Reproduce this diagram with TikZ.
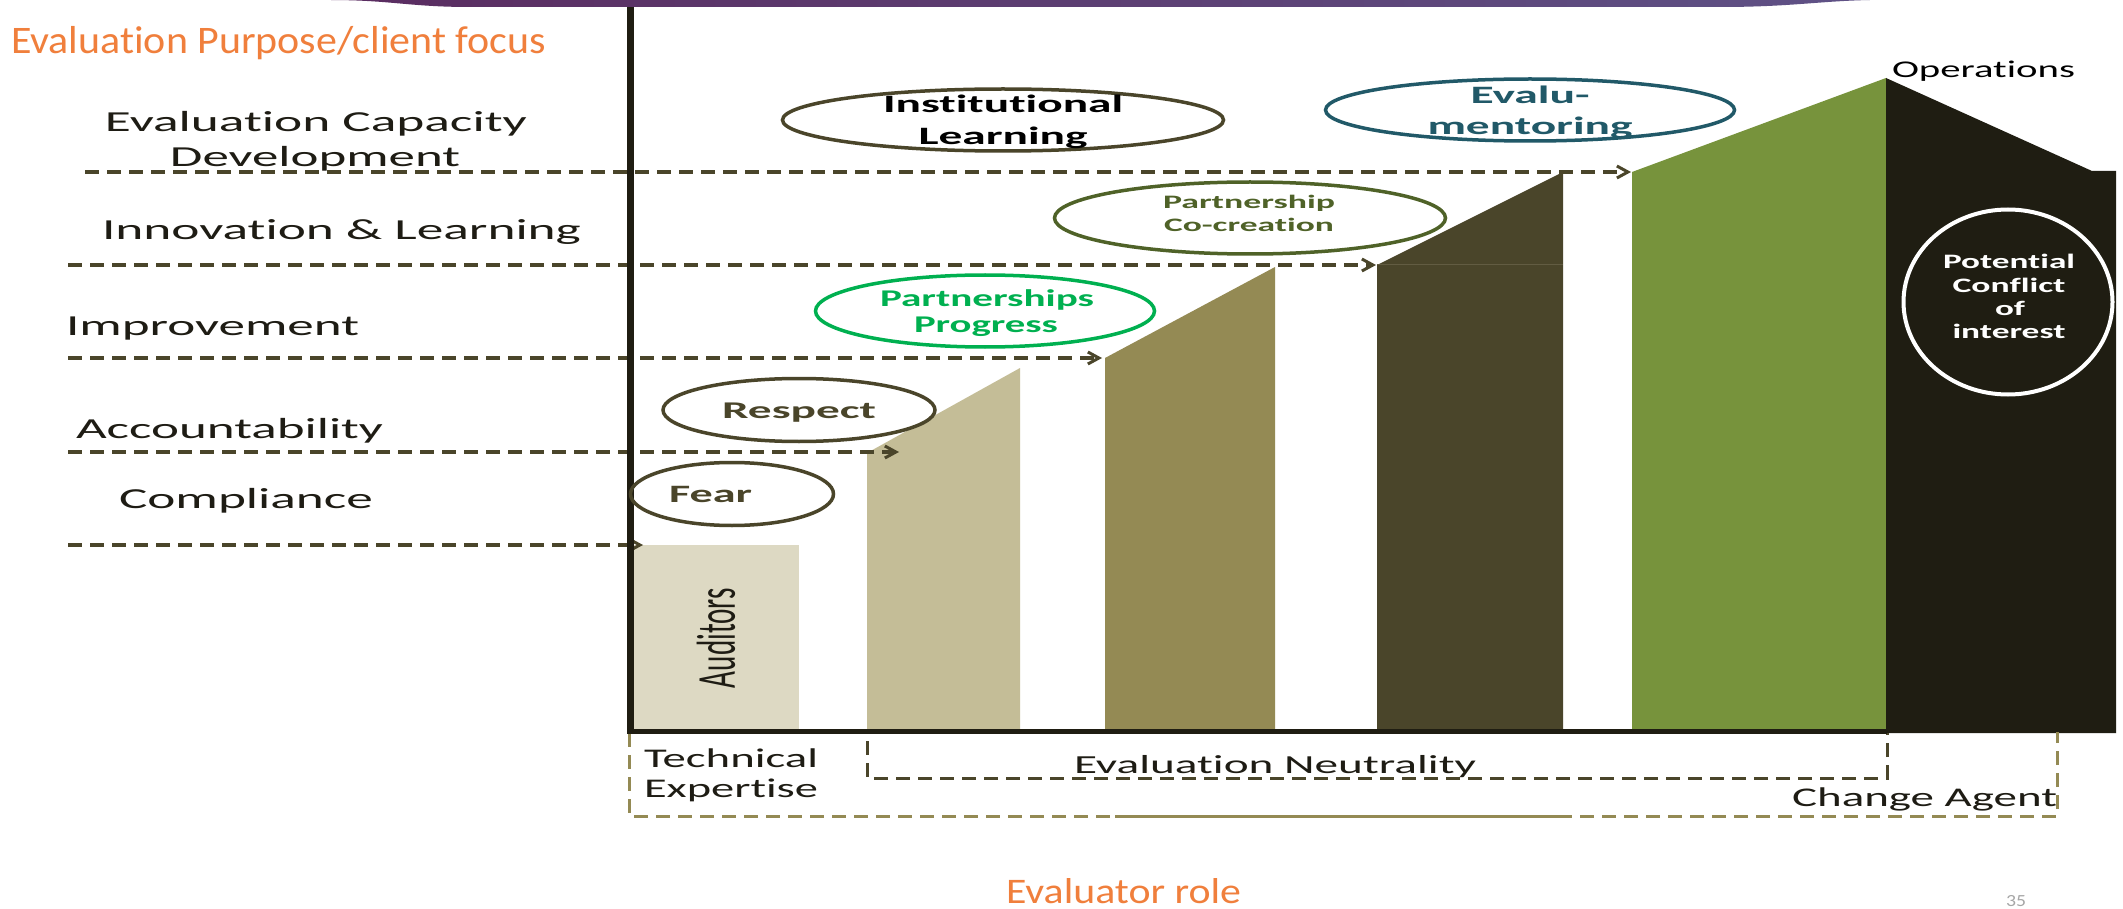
\documentclass[tikz,border=0pt]{standalone}
\usepackage{fontspec}
\setmainfont{Carlito}[Ligatures=NoCommon]
\usepackage{graphicx}
\usetikzlibrary{arrows.meta,shapes.geometric}

\definecolor{barpale}{HTML}{DDD9C3}
\definecolor{bartan}{HTML}{C4BD97}
\definecolor{barolive}{HTML}{948A54}
\definecolor{bardark}{HTML}{4A452A}
\definecolor{bargreen}{HTML}{77933C}
\definecolor{barblack}{HTML}{1F1D12}
\definecolor{barseam}{HTML}{625C42}
\definecolor{inkdark}{HTML}{1E1C14}
\definecolor{titleorange}{HTML}{F07F3C}
\definecolor{mentorteal}{HTML}{215968}
\definecolor{cocreate}{HTML}{4F6228}
\definecolor{progreen}{HTML}{00B050}
\definecolor{pageno}{HTML}{A6A6A6}
\definecolor{bandA}{HTML}{5A2C60}
\definecolor{bandB}{HTML}{6B2D63}
\definecolor{bandC}{HTML}{5F5286}

% stretch a text horizontally to a given width (in pt), keeping its height
\newcommand{\fitw}[2]{\resizebox{#1pt}{\height}{#2}}

\tikzset{
  lbl/.style={inner sep=0pt, outer sep=0pt, text=inkdark},
  purpose/.style={lbl, font=\fontsize{29}{34}\selectfont},
  rolelbl/.style={lbl, anchor=base west, font=\fontsize{27}{32}\selectfont},
  bubble/.style={ellipse, draw, line width=3.5pt, inner sep=0pt, outer sep=0pt},
  bubbletext/.style={inner sep=0pt, outer sep=0pt, anchor=base, font=\bfseries\fontsize{24}{28}\selectfont},
  flow/.style={draw=bardark, line width=3.2pt, dash pattern=on 14pt off 8pt,
    -{Straight Barb[length=11pt,width=12pt,line width=3pt]}},
  outerdash/.style={draw=barolive, line width=3pt, dash pattern=on 14pt off 8pt},
  innerdash/.style={draw=bardark, line width=3pt, dash pattern=on 14pt off 8pt},
}

\begin{document}
\begin{tikzpicture}[x=1pt,y=-1pt]
\fill[white] (0,0) rectangle (2123,909);
\useasboundingbox (0,0) rectangle (2123,909);

% header band
\shade[left color=bandA, middle color=bandB, right color=bandC]
  (330,0) .. controls (390,0) and (410,7) .. (470,7) -- (1720,7)
  .. controls (1790,7) and (1820,1) .. (1870,0) -- cycle;

% evaluator role columns
\fill[barpale] (634,545) rectangle (799,729);
\fill[bartan] (867,729) -- (867,453) -- (1020,368) -- (1020,729) -- cycle;
\fill[barolive] (1105,729) -- (1105,358) -- (1275,267) -- (1275,729) -- cycle;
\fill[bardark] (1377,729) -- (1377,265) -- (1563,172) -- (1563,729) -- cycle;
\draw[barseam, line width=1pt] (1377,265) -- (1563,265);
\fill[bargreen] (1632,729) -- (1632,172) -- (1886,78) -- (1886,729) -- cycle;
\fill[barblack] (1886,733) -- (1886,78) -- (2092,171) -- (2116,171) -- (2116,733) -- cycle;

% role brackets under the axis
\draw[outerdash] (629,733) -- (629,816) -- (2057,816) -- (2057,732);
\draw[outerdash, dash phase=11pt] (1115,816) -- (1561,816);
\draw[innerdash] (867,741) -- (867,778) -- (1887,778) -- (1887,733);

% purpose levels pointing to the columns
\coordinate (s1) at (85,172);  \coordinate (t1) at (1631,172);
\coordinate (s2) at (68,265);  \coordinate (t2) at (1376,265);
\coordinate (s3) at (68,358);  \coordinate (t3) at (1102,358);
\coordinate (s4) at (68,452);  \coordinate (t4) at (899,452);
\coordinate (s5) at (68,545);  \coordinate (t5) at (643,545);
\draw[flow] (s1) -- (t1);
\draw[flow] (s2) -- (t2);
\draw[flow] (s3) -- (t3);
\draw[flow] (s4) -- (t4);
\draw[flow] (s5) -- (t5);

% axes
\draw[barblack, line width=7pt] (630,7) -- (630,729);
\draw[barblack, line width=5pt] (627,731) -- (1887,731);

% relationship bubbles
\node[bubble, draw=bardark, minimum width=203pt, minimum height=63pt] (fear) at (732,494) {};
\node[bubble, draw=bardark, minimum width=272pt, minimum height=63pt] (respect) at (799,410) {};
\node[bubble, draw=progreen, minimum width=339pt, minimum height=72pt] (progress) at (985,311) {};
\node[bubble, draw=cocreate, minimum width=391pt, minimum height=72pt] (cocreation) at (1250,218) {};
\node[bubble, draw=bardark, minimum width=441pt, minimum height=62pt] (instlearn) at (1003,120) {};
\node[bubble, draw=mentorteal, minimum width=409pt, minimum height=62pt] (mentor) at (1530,110) {};
\node[bubble, draw=white, line width=4pt, minimum width=209pt, minimum height=185pt] (conflict) at (2008,302) {};

\node[bubbletext, anchor=base west, text=bardark, font=\bfseries\fontsize{25}{30}\selectfont] (fearT) at (669,502) {\fitw{83}{Fear}};
\node[bubbletext, text=bardark] (respectT) at (799,418) {\fitw{154}{Respect}};
\node[bubbletext, text=progreen] (progA) at (987,307) {\fitw{214}{Partnerships}};
\node[bubbletext, text=progreen] (progB) at (986,333) {\fitw{144}{Progress}};
\node[bubbletext, text=cocreate, font=\bfseries\fontsize{19}{23}\selectfont] (coA) at (1249,209) {\fitw{172}{Partnership}};
\node[bubbletext, text=cocreate, font=\bfseries\fontsize{19}{23}\selectfont] (coB) at (1249,232) {\fitw{170}{Co-creation}};
\node[bubbletext, text=black, font=\bfseries\fontsize{25}{30}\selectfont] (instA) at (1003,113) {\fitw{240}{Institutional}};
\node[bubbletext, text=black, font=\bfseries\fontsize{25}{30}\selectfont] (instB) at (1003,145) {\fitw{169}{Learning}};
\node[bubbletext, text=mentorteal, font=\bfseries\fontsize{25}{30}\selectfont] (mentA) at (1530,104) {\fitw{119}{Evalu-}};
\node[bubbletext, text=mentorteal, font=\bfseries\fontsize{25}{30}\selectfont] (mentB) at (1530,135) {\fitw{205}{mentoring}};
\node[bubbletext, text=white, font=\bfseries\fontsize{20.5}{24}\selectfont] (confA) at (2009,269) {\fitw{132}{Potential}};
\node[bubbletext, text=white, font=\bfseries\fontsize{20.5}{24}\selectfont] (confB) at (2009,293) {\fitw{113}{Conflict}};
\node[bubbletext, text=white, font=\bfseries\fontsize{20.5}{24}\selectfont] (confC) at (2010,316) {\fitw{30}{of}};
\node[bubbletext, text=white, font=\bfseries\fontsize{20.5}{24}\selectfont] (confD) at (2009,339) {\fitw{113}{interest}};

% titles
\node[lbl, anchor=base west, text=titleorange, font=\fontsize{39}{46}\selectfont] (ytitle) at (11,54) {\fitw{535}{Evaluation Purpose/client focus}};
\node[lbl, anchor=base west, text=titleorange, font=\fontsize{36}{42}\selectfont] (xtitle) at (1006,903) {\fitw{235}{Evaluator role}};

% purpose labels
\node[purpose, anchor=base] (ecdA) at (316,132) {\fitw{422}{Evaluation Capacity}};
\node[purpose, anchor=base] (ecdB) at (315,167) {\fitw{290}{Development}};
\node[purpose, anchor=base west] (innov) at (102,240) {\fitw{479}{Innovation \& Learning}};
\node[purpose, anchor=base west] (improve) at (66,335) {\fitw{293}{Improvement}};
\node[purpose, anchor=base west] (account) at (76,438) {\fitw{307}{Accountability}};
\node[purpose, anchor=base west] (comply) at (119,508) {\fitw{254}{Compliance}};
\node[lbl, anchor=base west, font=\fontsize{24}{28}\selectfont, text=black] (ops) at (1892,78) {\fitw{183}{Operations}};

% role labels
\node[lbl, rotate=90, font=\fontsize{55}{60}\selectfont] (auditors) at (716,638) {\fitw{100}{Auditors}};
\node[rolelbl] (techA) at (644,767) {\fitw{174}{Technical}};
\node[rolelbl] (techB) at (644,797) {\fitw{174}{Expertise}};
\node[rolelbl, font=\fontsize{26}{31}\selectfont] (neutral) at (1074,773) {\fitw{402}{Evaluation Neutrality}};
\node[rolelbl] (change) at (1792,806) {\fitw{265}{Change Agent}};
\node[lbl, anchor=base west, text=pageno, font=\fontsize{17}{20}\selectfont] (pnum) at (2006,906) {\fitw{20}{35}};
\end{tikzpicture}
\end{document}
